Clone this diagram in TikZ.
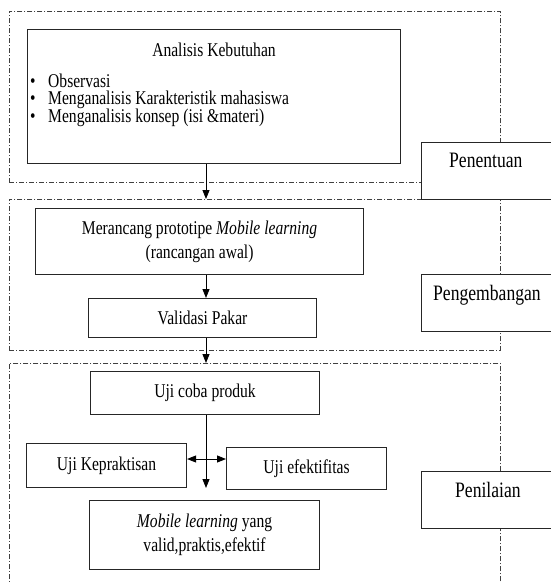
\documentclass[tikz,border=0pt]{standalone}
\usepackage{fontspec}
\setmainfont{Liberation Serif}[FakeStretch=0.8]
\usetikzlibrary{arrows.meta}
\lineskiplimit=-20pt\relax
\begin{document}
\begin{tikzpicture}[x=1pt,y=-1pt,>={Triangle[length=9pt,width=7pt]},
    frame/.style={draw=black!75,line width=0.7pt,dash pattern=on 5pt off 2pt on 1pt off 2pt,inner sep=0pt,anchor=north west},
    box/.style={draw=black!85,line width=1.1pt,fill=white,inner sep=0pt,anchor=north west,align=center,font=\fontsize{19.5}{24}\selectfont},
    side/.style={inner sep=0pt,anchor=base west,font=\fontsize{22}{26}\selectfont},
    item/.style={inner sep=0pt,anchor=base,font=\fontsize{19.5}{24}\selectfont},
    list/.style={inner sep=0pt,anchor=north west,align=left,font=\fontsize{19.5}{17.5}\selectfont},
    link/.style={->,line width=0.9pt}]
    \clip (0,0) rectangle (551,582);
    \useasboundingbox (0,0) rectangle (551,582);
    \node[frame,minimum width=491pt,minimum height=171pt] (fr1) at (9,11) {};
    \node[frame,minimum width=491pt,minimum height=151pt] (fr2) at (9,199) {};
    \node[frame,minimum width=491pt,minimum height=257pt] (fr3) at (9,363) {};
    \node[box,minimum width=373pt,minimum height=134pt] (ana) at (27,29) {};
    \node[item] (anatitle) at (214,56) {Analisis Kebutuhan};
    \node[list] (anaitems) at (30,73.7) {\makebox[18pt][l]{\textbullet}Observasi\\
        \makebox[18pt][l]{\textbullet}Menganalisis Karakteristik mahasiswa\\
        \makebox[18pt][l]{\textbullet}Menganalisis konsep (isi \&materi)};
    \node[box,minimum width=160pt,minimum height=57pt] (pen) at (421,142) {};
    \node[side] (pentxt) at (449,167) {Penentuan};
    \node[box,minimum width=328pt,minimum height=66pt] (mer) at (35,208) {Merancang prototipe \textit{Mobile learning}\\(rancangan awal)};
    \node[box,minimum width=228pt,minimum height=39pt] (val) at (88,298) {Validasi Pakar};
    \node[box,minimum width=160pt,minimum height=57pt] (peng) at (421,274) {};
    \node[side] (pengtxt) at (433,300) {Pengembangan};
    \node[box,minimum width=229pt,minimum height=43pt] (uji) at (90,371) {Uji coba produk};
    \node[box,minimum width=160pt,minimum height=44pt] (kep) at (26,443) {Uji Kepraktisan};
    \node[box,minimum width=160pt,minimum height=42pt] (efek) at (226,447) {Uji efektifitas};
    \node[box,minimum width=230pt,minimum height=69pt] (mob) at (89,500) {\textit{Mobile learning} yang\\valid,praktis,efektif};
    \node[box,minimum width=160pt,minimum height=57pt] (pnl) at (421,471) {};
    \node[side] (pnltxt) at (455,497) {Penilaian};
    \coordinate (spine) at (206,0);
    \coordinate (cross) at (206,459);
    \coordinate (split) at (206,488);
    \draw[link] (ana.south -| spine) -- (fr2.north -| spine);
    \draw[link] (mer.south -| spine) -- (val.north -| spine);
    \draw[link] (val.south -| spine) -- (fr3.north -| spine);
    \draw[link] (uji.south -| spine) -- (split);
    \draw[link] (cross) -- (cross -| kep.east);
    \draw[link] (cross) -- (cross -| efek.west);
\end{tikzpicture}
\end{document}
